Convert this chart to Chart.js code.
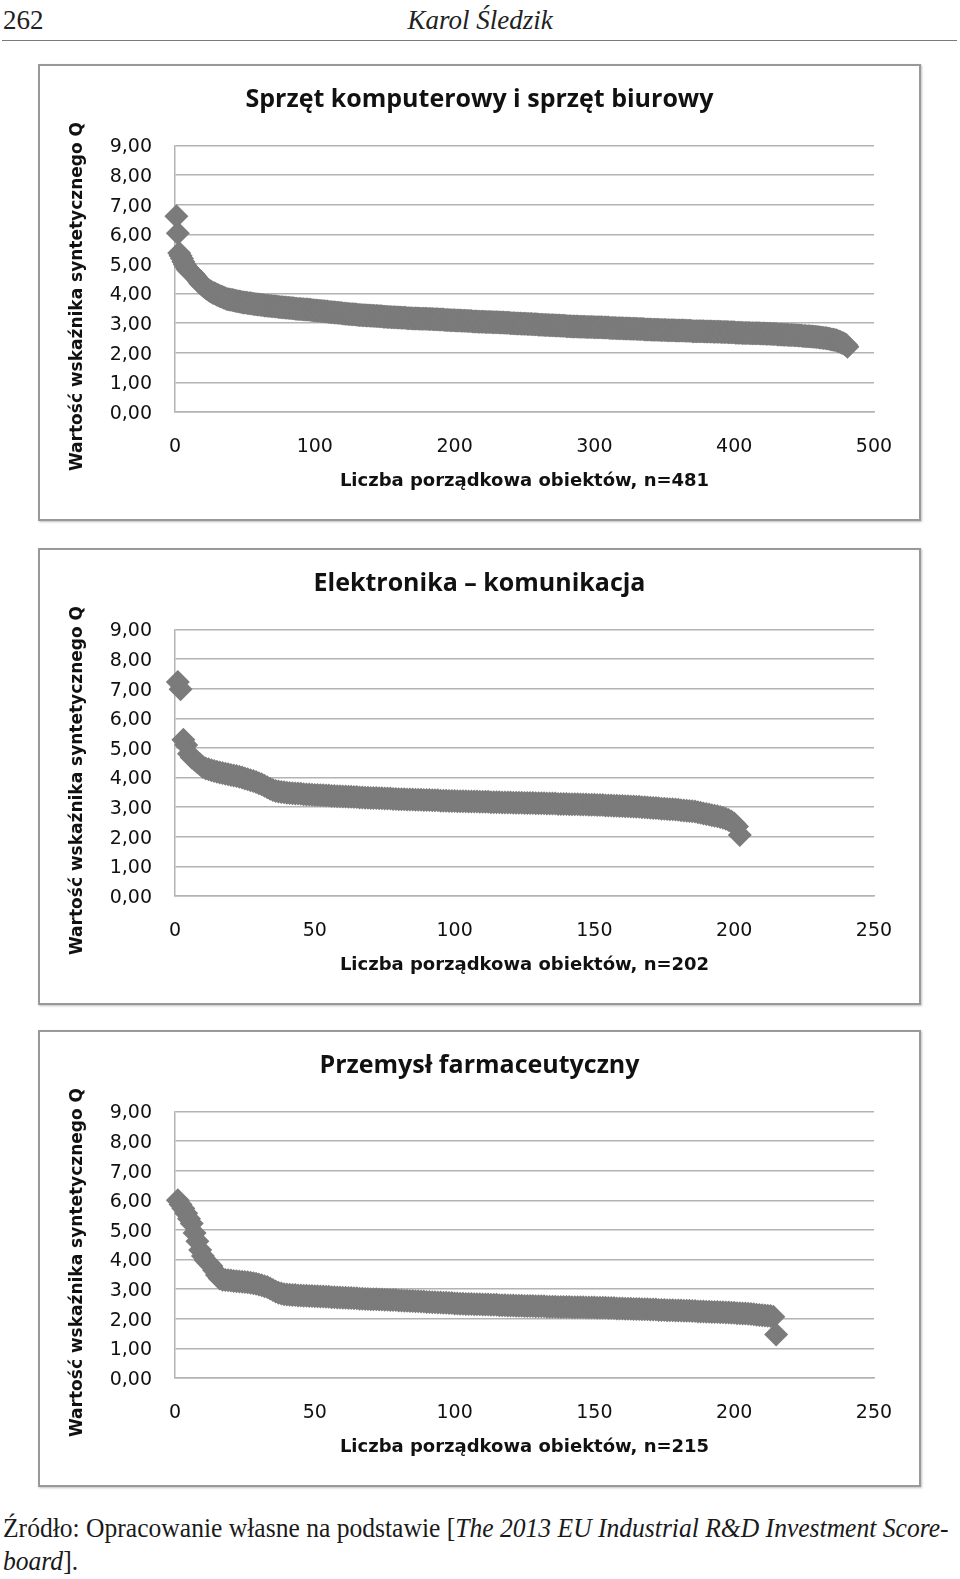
<!DOCTYPE html>
<html lang="pl">
<head>
<meta charset="utf-8">
<script src="https://cdn.jsdelivr.net/npm/chart.js@4.4.0/dist/chart.umd.min.js"></script>
<style>
  body { margin: 0; background: #fff; width: 960px; height: 1579px; position: relative; overflow: hidden; }
  .page-no { position: absolute; left: 3px; top: 0; font: 27px/40px "Liberation Serif", serif; color: #222; }
  .author { position: absolute; left: 0; width: 960px; top: 0; text-align: center; font: italic 27px/40px "Liberation Serif", serif; color: #222; }
  .rule { position: absolute; left: 2px; width: 955px; top: 40px; border-top: 1.5px solid #7a7a7a; }
  .box { position: absolute; left: 38px; width: 879px; height: 453px; border: 2px solid #999; box-shadow: 1px 1px 2px rgba(0,0,0,0.25); background: #fff; }
  .box canvas { position: absolute; left: 0; top: 0; }
  .src { position: absolute; left: 3px; font: 27px/33px "Liberation Serif", serif; color: #1a1a1a; white-space: nowrap; }
  .src span { display: inline-block; transform-origin: 0 50%; }
</style>
</head>
<body>
<div class="page-no">262</div>
<div class="author">Karol Śledzik</div>
<div class="rule"></div>

<div class="box" style="top:64px"><canvas id="c1" width="879" height="453"></canvas></div>
<div class="box" style="top:548px"><canvas id="c2" width="879" height="453"></canvas></div>
<div class="box" style="top:1030px"><canvas id="c3" width="879" height="453"></canvas></div>

<div class="src" style="top:1512px"><span id="src1">Źródło: Opracowanie własne na podstawie [<i>The 2013 EU Industrial R&amp;D Investment Score-</i></span></div>
<div class="src" style="top:1545px"><span id="src2"><i>board</i>].</span></div>

<script>
// Sprzęt komputerowy i sprzęt biurowy, n=481 (sorted Q values)
const sprzetQ = [
  6.61,6.04,5.37,5.28,5.18,5.07,4.98,4.90,4.82,4.77,4.73,4.70,4.66,4.61,4.55,4.49,4.42,4.35,4.31,4.27,4.23,4.19,4.15,4.12,4.09,4.06,4.03,4.01,3.99,3.96,3.94,3.92,3.90,3.88,3.86,3.84,3.82,
  3.81,3.80,3.79,3.78,3.77,3.76,3.75,3.74,3.73,3.72,3.71,3.70,3.70,3.69,3.68,3.67,3.67,3.66,3.65,3.65,3.64,3.63,3.63,3.62,
  3.61,3.61,3.60,3.60,3.59,3.59,3.58,3.58,3.57,3.57,3.56,3.56,3.55,3.55,3.54,3.54,3.53,3.53,3.52,3.52,
  3.51,3.51,3.50,3.50,3.49,3.49,3.48,3.48,3.48,3.47,3.47,3.46,3.46,3.46,3.45,3.45,
  3.44,3.44,3.43,3.43,3.42,3.42,3.41,3.41,3.40,3.40,3.39,3.39,3.38,3.38,3.37,3.37,3.36,3.36,3.35,3.35,
  3.34,3.34,3.33,3.33,3.32,3.32,3.31,3.31,3.30,3.30,3.30,3.29,3.29,3.28,3.28,
  3.28,3.27,3.27,3.27,3.26,3.26,3.26,3.25,3.25,3.25,3.24,3.24,3.24,3.23,3.23,3.23,3.22,3.22,3.22,3.21,
  3.21,3.21,3.20,3.20,3.20,3.20,3.19,3.19,3.19,3.18,3.18,3.18,3.18,3.17,3.17,3.17,3.17,3.16,3.16,3.16,
  3.16,3.16,3.15,3.15,3.15,3.15,3.15,3.15,
  3.14,3.14,3.14,3.14,3.13,3.13,3.13,3.13,3.12,3.12,3.12,3.12,3.11,3.11,3.11,3.11,3.10,3.10,3.10,3.10,
  3.09,3.09,3.09,3.09,3.08,3.08,3.08,3.08,3.07,3.07,3.07,3.07,3.06,3.06,3.06,3.06,3.05,3.05,3.05,3.05,
  3.05,3.04,3.04,3.04,3.04,3.04,3.03,3.03,3.03,3.03,
  3.03,3.02,3.02,3.02,3.02,3.01,3.01,3.01,3.01,3.00,3.00,3.00,3.00,2.99,2.99,2.99,2.99,2.98,2.98,2.98,
  2.98,2.97,2.97,2.97,2.97,2.96,2.96,2.96,2.96,2.95,2.95,2.95,2.95,2.94,2.94,2.94,2.94,2.93,2.93,2.93,
  2.93,2.92,2.92,2.92,2.92,2.91,2.91,2.91,2.91,2.90,2.90,2.90,2.90,2.89,2.89,2.89,2.89,2.89,2.88,2.88,
  2.88,2.88,2.88,2.87,2.87,2.87,2.87,2.87,2.87,2.86,2.86,2.86,2.86,2.86,
  2.86,2.85,2.85,2.85,2.85,2.85,2.84,2.84,2.84,2.84,2.84,2.83,2.83,2.83,2.83,2.83,2.82,2.82,2.82,2.82,
  2.82,2.81,2.81,2.81,2.81,2.81,2.80,2.80,2.80,2.80,2.80,2.79,2.79,2.79,2.79,2.79,2.78,2.78,2.78,2.78,
  2.78,2.78,2.77,2.77,2.77,2.77,2.77,2.76,2.76,2.76,2.76,2.76,2.76,2.75,2.75,2.75,2.75,2.75,2.75,2.75,
  2.74,2.74,2.74,2.74,2.74,2.73,2.73,2.73,2.73,2.73,2.73,2.73,
  2.73,2.73,2.72,2.72,2.72,2.72,2.72,2.72,2.71,2.71,2.71,2.71,2.71,2.71,2.70,2.70,2.70,2.70,2.70,2.69,
  2.69,2.69,2.69,2.69,2.68,2.68,2.68,2.68,2.68,2.67,2.67,2.67,2.67,2.67,2.67,2.66,2.66,2.66,2.66,2.66,
  2.66,2.66,
  2.65,2.65,2.65,2.65,2.64,2.64,2.64,2.64,2.63,2.63,2.63,2.63,2.62,2.62,2.62,2.62,2.61,2.61,2.61,2.61,
  2.60,2.60,2.60,2.60,2.59,2.59,2.59,2.58,2.58,
  2.58,2.57,2.57,2.57,2.56,2.56,2.56,2.55,2.55,2.54,2.54,2.53,2.53,2.52,2.52,2.51,2.50,2.50,2.49,2.48,
  2.47,2.46,2.45,2.44,2.43,2.42,2.40,2.38,2.36,2.34,2.32,2.30,2.27,2.20
];

// Elektronika – komunikacja, n=202
const elektronikaQ = [
  7.23,6.98,5.28,5.10,4.80,4.68,4.60,4.52,4.44,4.36,
  4.31,4.28,4.25,4.22,4.20,4.17,4.15,4.13,4.11,4.09,
  4.07,4.05,4.03,4.00,3.97,3.94,3.91,3.88,3.85,3.81,
  3.77,3.72,3.67,3.62,3.58,3.55,3.53,3.51,3.50,3.49,
  3.48,3.47,3.46,3.46,3.45,3.44,3.43,3.43,3.42,3.41,
  3.41,3.40,3.40,3.39,3.39,3.38,3.38,3.37,3.37,3.36,
  3.36,3.35,3.35,3.34,3.34,3.33,3.33,3.32,3.32,3.31,
  3.31,3.31,3.30,3.30,3.29,3.29,3.29,3.28,3.28,3.27,
  3.27,3.27,3.26,3.26,3.26,3.25,3.25,3.25,3.24,3.24,
  3.24,3.23,3.23,3.23,3.22,3.22,3.22,3.21,3.21,3.21,
  3.20,3.20,3.20,3.20,3.19,3.19,3.19,3.19,3.18,3.18,
  3.18,3.18,3.17,3.17,3.17,3.17,3.16,3.16,3.16,3.16,
  3.15,3.15,3.15,3.15,3.14,3.14,3.14,3.14,3.13,3.13,
  3.13,3.13,3.12,3.12,3.12,3.12,3.11,3.11,3.11,3.11,
  3.10,3.10,3.10,3.10,3.09,3.09,3.09,3.08,3.08,3.08,
  3.07,3.07,3.07,3.06,3.06,3.06,3.05,3.05,3.04,3.04,
  3.03,3.03,3.02,3.02,3.01,3.01,3.00,3.00,2.99,2.98,
  2.97,2.97,2.96,2.95,2.95,2.94,2.93,2.93,2.92,2.91,
  2.90,2.89,2.88,2.87,2.86,2.85,2.83,2.81,2.79,2.77,
  2.75,2.73,2.71,2.69,2.67,2.64,2.61,2.57,2.52,2.45,
  2.35,2.06
];

// Przemysł farmaceutyczny, n=215
const farmacjaQ = [
  6.00,5.86,5.72,5.56,5.38,5.22,4.90,4.62,4.32,4.12,
  3.98,3.88,3.78,3.64,3.48,3.36,3.32,3.31,3.30,3.29,
  3.28,3.27,3.26,3.25,3.24,3.23,3.22,3.20,3.18,3.16,
  3.13,3.10,3.07,3.02,2.97,2.92,2.88,2.85,2.83,2.82,
  2.81,2.80,2.80,2.79,2.79,2.78,2.78,2.77,2.77,2.76,
  2.76,2.75,2.75,2.74,2.74,2.73,2.73,2.72,2.72,2.71,
  2.71,2.70,2.70,2.69,2.69,2.68,2.68,2.67,2.67,2.66,
  2.66,2.66,2.65,2.65,2.64,2.64,2.63,2.63,2.63,2.62,
  2.62,2.61,2.61,2.60,2.60,2.59,2.59,2.58,2.58,2.57,
  2.57,2.56,2.56,2.55,2.55,2.54,2.54,2.53,2.53,2.52,
  2.52,2.51,2.51,2.50,2.50,2.50,2.49,2.49,2.49,2.48,
  2.48,2.48,2.47,2.47,2.47,2.46,2.46,2.46,2.45,2.45,
  2.45,2.44,2.44,2.44,2.43,2.43,2.43,2.43,2.42,2.42,
  2.42,2.42,2.41,2.41,2.41,2.41,2.40,2.40,2.40,2.40,
  2.40,2.39,2.39,2.39,2.39,2.39,2.38,2.38,2.38,2.38,
  2.37,2.37,2.37,2.37,2.36,2.36,2.36,2.35,2.35,2.35,
  2.34,2.34,2.34,2.33,2.33,2.33,2.32,2.32,2.32,2.31,
  2.31,2.31,2.30,2.30,2.30,2.29,2.29,2.29,2.28,2.28,
  2.28,2.27,2.27,2.27,2.26,2.26,2.25,2.25,2.25,2.24,
  2.24,2.23,2.23,2.23,2.22,2.22,2.21,2.21,2.20,2.20,
  2.19,2.19,2.18,2.18,2.17,2.16,2.15,2.14,2.13,2.12,
  2.11,2.10,2.09,2.07,1.47
];

const titles = ['Sprzęt komputerowy i sprzęt biurowy', 'Elektronika – komunikacja', 'Przemysł farmaceutyczny'];
const xTitles = ['Liczba porządkowa obiektów, n=481', 'Liczba porządkowa obiektów, n=202', 'Liczba porządkowa obiektów, n=215'];
const xMaxes = [500, 250, 250];
const xSteps = [100, 50, 50];
const yTitle = 'Wartość wskaźnika syntetycznego Q      ';

const MARK = '#7b7b7b';
const GRID = '#b3b3b3';
const INK = '#111';

function drawPanel(id, k, values) {
    const points = values.map((v, i) => ({ x: i + 1, y: v }));
    return new Chart(document.getElementById(id), {
        type: 'scatter',
        data: { datasets: [{ data: points, pointStyle: 'rectRot', pointRadius: 12, pointHoverRadius: 12,
                             backgroundColor: MARK, borderWidth: 0, clip: false }] },
        options: {
            responsive: false, animation: false, events: [],
            layout: { padding: 0 },
            plugins: {
                legend: { display: false }, tooltip: { enabled: false },
                title: { display: true, text: titles[k], color: '#111',
                         font: { family: 'Open Sans', size: 25, weight: 'bold', lineHeight: 1.2 },
                         padding: { top: 19, bottom: 30.5 } }
            },
            scales: {
                x: { type: 'linear', min: 0, max: xMaxes[k],
                     afterFit: s => { s.height = 107; },
                     grid: { display: false, drawTicks: false },
                     border: { display: true, color: GRID, width: 1.5 },
                     ticks: { stepSize: xSteps[k], padding: 24, color: INK, maxRotation: 0,
                              font: { family: 'DejaVu Sans', size: 19 } },
                     title: { display: true, text: xTitles[k], color: '#111',
                              font: { family: 'DejaVu Sans', size: 18, weight: 'bold', lineHeight: 1.2 },
                              padding: { top: 0, bottom: 27 } } },
                y: { type: 'linear', min: 0, max: 9,
                     afterFit: s => { s.width = 135; },
                     grid: { color: GRID, lineWidth: 1.5, drawTicks: false },
                     border: { display: true, color: GRID, width: 1.5 },
                     ticks: { stepSize: 1, padding: 23, color: INK, labelOffset: 2,
                              font: { family: 'DejaVu Sans', size: 19 },
                              callback: v => v.toFixed(2).replace('.', ',') },
                     title: { display: true, text: yTitle, color: '#111',
                              font: { family: 'DejaVu Sans', size: 17, weight: 'bold', lineHeight: 1.2 },
                              padding: { top: 27, bottom: 0 } } },
                pad: { type: 'linear', position: 'right', afterFit: s => { s.width = 45; },
                       grid: { display: false, drawTicks: false }, border: { display: false },
                       ticks: { display: false } }
            }
        }
    });
}

drawPanel('c1', 0, sprzetQ);
drawPanel('c2', 1, elektronikaQ);
drawPanel('c3', 2, farmacjaQ);

// the source note is set in a condensed book face: squeeze line 1 to the text width
const line1 = document.getElementById('src1');
const squeeze = 946 / line1.offsetWidth;
['src1', 'src2'].forEach(id => { document.getElementById(id).style.transform = `scaleX(${squeeze})`; });
</script>
</body>
</html>
